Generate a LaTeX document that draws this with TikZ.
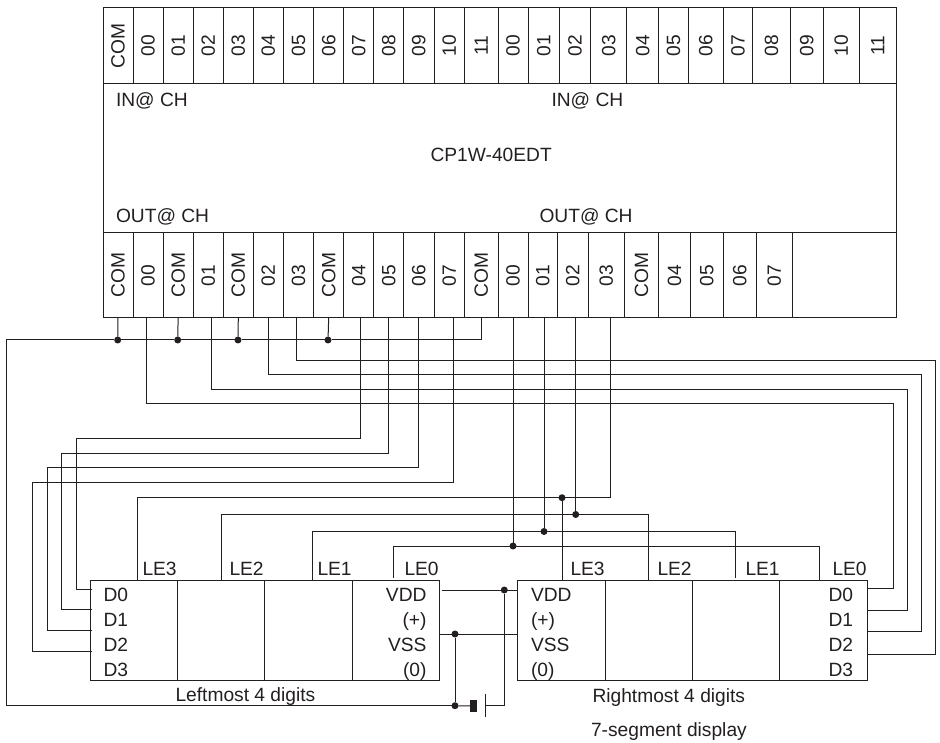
\documentclass[tikz,border=0pt]{standalone}
\usepackage{graphicx}
\usepackage{fontspec}
\setmainfont{Liberation Sans}
\usetikzlibrary{positioning}
\definecolor{ink}{HTML}{231F20}
\newcommand{\vtext}[1]{\rotatebox{90}{#1}}
\tikzset{
every node/.style={font=\fontsize{19.2}{22}\selectfont, outer sep=0pt, inner sep=0pt},
topcell/.style={draw, minimum width=#1pt, minimum height=76pt}, % upper terminal
botcell/.style={draw, minimum width=#1pt, minimum height=85.3pt}, % lower terminal
digit/.style={draw, minimum width=87.4pt, minimum height=100pt}, % one display digit
txt/.style={anchor=base west}, % label placed by its base line
txtr/.style={anchor=base east},
dot/.style={circle, fill, minimum size=7pt},
}

\begin{document}
\begin{tikzpicture}[x=1pt, y=-1pt, line width=1pt, color=ink]
    \useasboundingbox (0,0) rectangle (940,743);

    % input terminals
    \node[topcell=30, anchor=north west] (i0) at (103,8) {\vtext{COM}};
    \node[topcell=30, right=0pt of i0] (i1) {\vtext{00}};
    \node[topcell=30.3, right=0pt of i1] (i2) {\vtext{01}};
    \node[topcell=30, right=0pt of i2] (i3) {\vtext{02}};
    \node[topcell=30, right=0pt of i3] (i4) {\vtext{03}};
    \node[topcell=30, right=0pt of i4] (i5) {\vtext{04}};
    \node[topcell=30.4, right=0pt of i5] (i6) {\vtext{05}};
    \node[topcell=30, right=0pt of i6] (i7) {\vtext{06}};
    \node[topcell=30, right=0pt of i7] (i8) {\vtext{07}};
    \node[topcell=30, right=0pt of i8] (i9) {\vtext{08}};
    \node[topcell=30.3, right=0pt of i9] (i10) {\vtext{09}};
    \node[topcell=30.7, right=0pt of i10] (i11) {\vtext{10}};
    \node[topcell=33.3, right=0pt of i11] (i12) {\vtext{11}};
    \node[topcell=30, right=0pt of i12] (i13) {\vtext{00}};
    \node[topcell=31.3, right=0pt of i13] (i14) {\vtext{01}};
    \node[topcell=31.4, right=0pt of i14] (i15) {\vtext{02}};
    \node[topcell=36, right=0pt of i15] (i16) {\vtext{03}};
    \node[topcell=32, right=0pt of i16] (i17) {\vtext{04}};
    \node[topcell=29.6, right=0pt of i17] (i18) {\vtext{05}};
    \node[topcell=35, right=0pt of i18] (i19) {\vtext{06}};
    \node[topcell=29.4, right=0pt of i19] (i20) {\vtext{07}};
    \node[topcell=37.6, right=0pt of i20] (i21) {\vtext{08}};
    \node[topcell=32.7, right=0pt of i21] (i22) {\vtext{09}};
    \node[topcell=36.3, right=0pt of i22] (i23) {\vtext{10}};
    \node[topcell=36.7, right=0pt of i23] (i24) {\vtext{11}};

    % unit body
    \node[draw, minimum width=793pt, minimum height=148.7pt, below right=0pt of i0.south west] (unit) {};
    \node[txt] (in1) at (116,106.5) {IN@ CH};
    \node[txt] (in2) at (551.5,106.5) {IN@ CH};
    \node[txt] (model) at (430.5,162) {CP1W-40EDT};
    \node[txt] (out1) at (116,222.5) {OUT@ CH};
    \node[txt] (out2) at (539.5,222.5) {OUT@ CH};

    % output terminals
    \node[botcell=30, below right=0pt of unit.south west] (o0) {\vtext{COM}};
    \node[botcell=30, right=0pt of o0] (o1) {\vtext{00}};
    \node[botcell=30.3, right=0pt of o1] (o2) {\vtext{COM}};
    \node[botcell=30, right=0pt of o2] (o3) {\vtext{01}};
    \node[botcell=30, right=0pt of o3] (o4) {\vtext{COM}};
    \node[botcell=30, right=0pt of o4] (o5) {\vtext{02}};
    \node[botcell=30.4, right=0pt of o5] (o6) {\vtext{03}};
    \node[botcell=30, right=0pt of o6] (o7) {\vtext{COM}};
    \node[botcell=30, right=0pt of o7] (o8) {\vtext{04}};
    \node[botcell=30, right=0pt of o8] (o9) {\vtext{05}};
    \node[botcell=30.3, right=0pt of o9] (o10) {\vtext{06}};
    \node[botcell=30.7, right=0pt of o10] (o11) {\vtext{07}};
    \node[botcell=33.3, right=0pt of o11] (o12) {\vtext{COM}};
    \node[botcell=30, right=0pt of o12] (o13) {\vtext{00}};
    \node[botcell=29.3, right=0pt of o13] (o14) {\vtext{01}};
    \node[botcell=31, right=0pt of o14] (o15) {\vtext{02}};
    \node[botcell=36, right=0pt of o15] (o16) {\vtext{03}};
    \node[botcell=34.4, right=0pt of o16] (o17) {\vtext{COM}};
    \node[botcell=31.6, right=0pt of o17] (o18) {\vtext{04}};
    \node[botcell=33, right=0pt of o18] (o19) {\vtext{05}};
    \node[botcell=33, right=0pt of o19] (o20) {\vtext{06}};
    \node[botcell=36, right=0pt of o20] (o21) {\vtext{07}};
    \node[botcell=103.7, right=0pt of o21] (o22) {};

    % display digits
    \node[digit, anchor=north west] (l3) at (90,580) {};
    \node[digit, right=0pt of l3] (l2) {};
    \node[digit, right=0pt of l2] (l1) {};
    \node[digit, right=0pt of l1] (l0) {};
    \node[digit, anchor=north west] (r3) at (517.7,580) {};
    \node[digit, right=0pt of r3] (r2) {};
    \node[digit, right=0pt of r2] (r1) {};
    \node[digit, right=0pt of r1] (r0) {};

    \node[txt] (lle3) at (142.5,575) {LE3};
    \node[txt] (lle2) at (229.5,575) {LE2};
    \node[txt] (lle1) at (317.5,575) {LE1};
    \node[txt] (lle0) at (404.5,575) {LE0};
    \node[txt] (rle3) at (570.5,575) {LE3};
    \node[txt] (rle2) at (657.5,575) {LE2};
    \node[txt] (rle1) at (745.5,575) {LE1};
    \node[txt] (rle0) at (832.5,575) {LE0};

    \node[txt] (ld0) at (103.5,601) {D0};
    \node[txt] (ld1) at (103.5,626) {D1};
    \node[txt] (ld2) at (103.5,651) {D2};
    \node[txt] (ld3) at (103.5,676) {D3};
    \node[txtr] (lvdd) at (426.5,601) {VDD};
    \node[txtr] (lplus) at (426.5,626) {(+)};
    \node[txtr] (lvss) at (426.5,651) {VSS};
    \node[txtr] (lzero) at (426.5,676) {(0)};
    \node[txt] (rvdd) at (531,601) {VDD};
    \node[txt] (rplus) at (531,626) {(+)};
    \node[txt] (rvss) at (531,651) {VSS};
    \node[txt] (rzero) at (531,676) {(0)};
    \node[txt] (rd0) at (828.5,601) {D0};
    \node[txt] (rd1) at (828.5,626) {D1};
    \node[txt] (rd2) at (828.5,651) {D2};
    \node[txt] (rd3) at (828.5,676) {D3};

    \node[txt] (lname) at (175.5,701.5) {Leftmost 4 digits};
    \node[txt] (rname) at (592.5,702.5) {Rightmost 4 digits};
    \node[txt] (dname) at (591,736.5) {7-segment display};

    % wire ends on the terminals and on the digits
    \coordinate (w00) at (146.3,318);
    \coordinate (w01) at (211,318);
    \coordinate (w02) at (268,318);
    \coordinate (w03) at (296.3,318);
    \coordinate (w04) at (360.7,318);
    \coordinate (w05) at (388.7,318);
    \coordinate (w06) at (418,318);
    \coordinate (w07) at (453.3,318);
    \coordinate (w10) at (513,318);
    \coordinate (w11) at (544,318);
    \coordinate (w12) at (575.7,318);
    \coordinate (w13) at (610.3,318);
    \coordinate (pl0) at (92,589);
    \coordinate (pl1) at (92,609.3);
    \coordinate (pl2) at (92,630);
    \coordinate (pl3) at (92,651.7);
    \coordinate (pr0) at (867.3,588.7);
    \coordinate (pr1) at (867.3,610);
    \coordinate (pr2) at (867.3,631.7);
    \coordinate (pr3) at (867.3,654.7);
    \coordinate (el3) at (137,580);
    \coordinate (el2) at (221.7,580);
    \coordinate (el1) at (312,580);
    \coordinate (el0) at (393.3,578);
    \coordinate (er3) at (562,580);
    \coordinate (er2) at (648.5,580);
    \coordinate (er1) at (735,578);
    \coordinate (er0) at (819,580);
    \coordinate (vl) at (441.7,590);
    \coordinate (vr) at (517.7,590);
    \coordinate (sl) at (439.3,634);
    \coordinate (sr) at (517.7,634);
    \coordinate (plate) at (485.7,705.5);

    % junctions
    \node[dot] (j0) at (117.7,340) {};
    \node[dot] (j2) at (177.7,340) {};
    \node[dot] (j4) at (238,340) {};
    \node[dot] (j7) at (328,340) {};
    \node[dot] (k3) at (562,497.7) {};
    \node[dot] (k2) at (575.7,514.5) {};
    \node[dot] (k1) at (544,531.5) {};
    \node[dot] (k0) at (513,546) {};
    \node[dot] (jv) at (504.3,590) {};
    \node[dot] (js) at (455,634) {};
    \node[dot] (jb) at (455,705.7) {};
    \node[fill, minimum width=7pt, minimum height=12pt] (bat) at (473.5,706) {};

    % common line
    \draw (o0.south) -- (j0);
    \draw (o2.south) -- (j2);
    \draw (o4.south) -- (j4);
    \draw (o7.south) -- (j7);
    \draw (o12.south) |- (j7);
    \draw (j7) -- (j4);
    \draw (j4) -- (j2);
    \draw (j2) -- (j0);
    \draw (j0) -| (6.7,705.7) -- (jb);
    \draw (jb) -- (bat);

    % data lines, rightmost digits
    \draw (w00) |- (893,403) |- (pr0);
    \draw (w01) |- (907.5,389.3) |- (pr1);
    \draw (w02) |- (921.5,374.7) |- (pr2);
    \draw (w03) |- (935.7,360.7) |- (pr3);

    % data lines, leftmost digits
    \draw (w04) |- (76,438.7) |- (pl0);
    \draw (w05) |- (61.7,453.3) |- (pl1);
    \draw (w06) |- (47,467.3) |- (pl2);
    \draw (w07) |- (32.7,482) |- (pl3);

    % latch lines
    \draw (w13) |- (137,497.7) -- (el3);
    \draw (k3) -- (er3);
    \draw (w12) -- (k2);
    \draw (el2) |- (648.5,514.5) -- (er2);
    \draw (w11) -- (k1);
    \draw (el1) |- (735,531.5) -- (er1);
    \draw (w10) -- (k0);
    \draw (el0) |- (819,546) -- (er0);

    % supply
    \draw (vl) -- (vr);
    \draw (sl) -- (sr);
    \draw (js) -- (jb);
    \draw (plate) -| (jv);
    \draw ([yshift=-11.5pt]plate) -- ([yshift=11.5pt]plate);
\end{tikzpicture}
\end{document}
